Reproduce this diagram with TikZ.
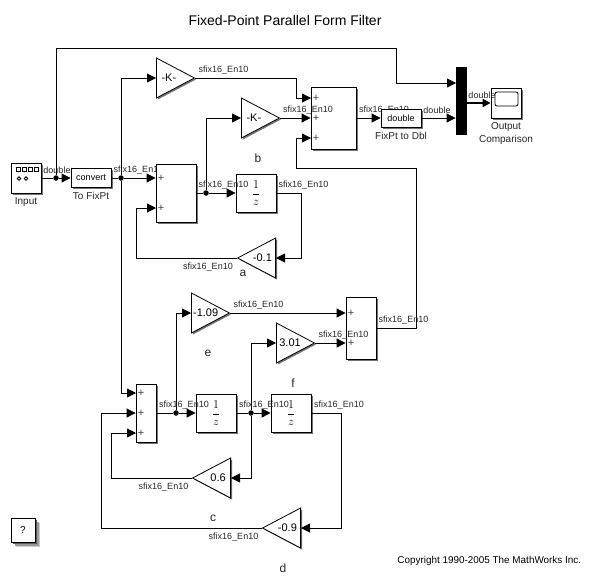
\documentclass[tikz,border=0pt]{standalone}
\usepackage{fontspec}
\setmainfont{Liberation Sans}
\usetikzlibrary{arrows.meta,shapes.geometric,shadows}
\tikzset{
  blk/.style={draw,fill=white,inner sep=0pt,drop shadow={shadow xshift=1.5pt,shadow yshift=-1.5pt,fill=black!55,opacity=1}},
  gainr/.style={blk,isosceles triangle,isosceles triangle stretches,shape border rotate=0,minimum width=40pt,minimum height=38pt,anchor=lower side,font=\fontsize{11}{11}\selectfont},
  gainl/.style={gainr,shape border rotate=180},
  wire/.style={-{Triangle[length=9pt,width=9pt]},line width=0.8pt},
  plain/.style={line width=0.8pt},
  dot/.style={circle,fill=black,inner sep=0pt,minimum size=5.5pt},
  sig/.style={font=\fontsize{9}{9}\selectfont,text=black!85,inner sep=0pt},
  capt/.style={font=\fontsize{10}{10}\selectfont,text=black!85,inner sep=0pt},
  letr/.style={font=\fontsize{12}{12}\selectfont,text=black!85,inner sep=0pt},
  pls/.style={font=\fontsize{11}{11}\selectfont,text=black!75,inner sep=0pt},
  helpbox/.style={draw,fill=white,inner sep=0pt,line width=1pt,minimum width=24pt,minimum height=24pt,font=\fontsize{10}{10}\selectfont,
    drop shadow={shadow xshift=5pt,shadow yshift=-5pt,fill=black!20,opacity=1},
    drop shadow={shadow xshift=3.5pt,shadow yshift=-3.5pt,fill=black!40,opacity=1},
    drop shadow={shadow xshift=2pt,shadow yshift=-2pt,fill=black!65,opacity=1}}
}
\begin{document}
\begin{tikzpicture}[x=1pt,y=-1pt,line width=0.8pt]
\useasboundingbox (0,0) rectangle (593,587);
\node[font=\fontsize{14}{14}\selectfont,inner sep=0pt] (title) at (285,20) {Fixed-Point Parallel Form Filter};
\node[font=\fontsize{9.9}{10}\selectfont,inner sep=0pt,anchor=east] (copy) at (581.5,561) {Copyright 1990-2005 The MathWorks Inc.};
% labels the blocks hide
\node[sig] (l1) at (138.5,170) {sfix16\_En10};
\node[sig] (l2) at (384,110) {sfix16\_En10};
% top half
\node[blk,minimum width=30pt,minimum height=30pt] (input) at (26.5,178) {};
\node[blk,minimum width=40pt,minimum height=19pt,font=\fontsize{9}{9}\selectfont] (conv) at (91,178) {convert};
\node[blk,minimum width=40pt,minimum height=58pt] (sum1) at (176,193) {};
\node[blk,minimum width=40pt,minimum height=38pt] (del1) at (256,193) {\fontsize{12}{12}\selectfont$\displaystyle\frac{1}{z}$};
\node[gainr] (k1) at (156,78) {-K-};
\node[gainr] (k2) at (241,118) {-K-};
\node[gainl] (ga) at (276,258) {-0.1};
\node[blk,minimum width=45pt,minimum height=62pt] (sum2) at (333.5,118) {};
\node[blk,minimum width=40pt,minimum height=18pt,font=\fontsize{9}{9}\selectfont] (dbl) at (401,118) {double};
\node[draw,fill=black,inner sep=0pt,minimum width=10pt,minimum height=67pt] (mux) at (461,100.5) {};
\node[blk,minimum width=30pt,minimum height=30pt] (scope) at (506,103) {};
\draw[rounded corners=2pt] (495,92) rectangle (518,106);
% bottom half
\node[blk,minimum width=30pt,minimum height=62pt] (sum3) at (361,328) {};
\node[gainr] (ge) at (191,313) {-1.09};
\node[gainr] (gf) at (276,343) {3.01};
\node[blk,minimum width=20pt,minimum height=58pt] (sum4) at (146,413) {};
\node[blk,minimum width=40pt,minimum height=38pt] (del2) at (216,413) {\fontsize{12}{12}\selectfont$\displaystyle\frac{1}{z}$};
\node[blk,minimum width=40pt,minimum height=38pt] (del3) at (291,413) {\fontsize{12}{12}\selectfont$\displaystyle\frac{1}{z}$};
\node[gainl] (gc) at (231,478) {0.6};
\node[gainl] (gd) at (301,528) {-0.9};
\node[helpbox] (help) at (23,530) {?};
% input icon
\foreach \x in {16,22,28,34} \draw[line width=0.8pt] (\x,167) rectangle +(4,4);
\foreach \x in {19,26} \draw[line width=0.8pt] (\x,178.5) circle (1.8);
% plus signs
\foreach \n/\x/\y in {a/161/178,b/161/208,c/316/98,d/316/118,e/316/138,f/351/313,g/351/343,h/141/393,i/141/413,j/141/433}
  \node[pls] (p\n) at (\x,\y) {+};
% junctions
\node[dot] (j1) at (56,178) {};
\node[dot] (j2) at (121,178) {};
\node[dot] (j3) at (206,193) {};
\node[dot] (j4) at (176,413) {};
\node[dot] (j5) at (251,413) {};
% bends
\coordinate (top) at (396,48);
\coordinate (muxa) at (456,83);
\coordinate (s2a) at (311,98);
\coordinate (b1) at (296,78);
\coordinate (fb1) at (416,168);
\coordinate (fb2) at (296,138);
\coordinate (s2c) at (311,138);
\coordinate (s1b) at (156,208);
\coordinate (r1) at (301,193);
\coordinate (r2) at (136,258);
\coordinate (r3) at (341,413);
\coordinate (r4) at (101,528);
\coordinate (r5) at (111,478);
\coordinate (s4a) at (136,393);
\coordinate (s4c) at (136,433);
\draw[plain] (input.east) -- (j1);
\draw[wire] (j1) -- (conv.west);
\draw[wire] (j1) |- (top) |- (muxa);
\draw[plain] (conv.east) -- (j2);
\draw[wire] (j2) -- (j2 -| sum1.west);
\draw[wire] (j2) |- (k1.lower side);
\draw[wire] (j2) |- (s4a);
\draw[plain] (sum1.east) -- (j3);
\draw[wire] (j3) -- (del1.west);
\draw[wire] (j3) |- (k2.lower side);
\draw[wire] (del1.east) -| (r1) |- (ga.lower side);
\draw[wire] (ga.apex) -| (r2) |- (s1b);
\draw[wire] (k1.apex) -| (b1) |- (s2a);
\draw[wire] (k2.apex) -- (k2.apex -| sum2.west);
\draw[wire] (sum2.east) -- (dbl.west);
\draw[wire] (dbl.east) -- (dbl.east -| mux.west);
\draw[-{Triangle[length=8pt,width=8pt]},line width=2.5pt] (mux.east |- scope.west) -- (scope.west);
\draw[plain] (sum3.east) -| (fb1) -| (fb2);
\draw[wire] (fb2) -- (s2c);
\draw[wire] (ge.apex) -- (ge.apex -| sum3.west);
\draw[wire] (gf.apex) -- (gf.apex -| sum3.west);
\draw[plain] (sum4.east) -- (j4);
\draw[wire] (j4) -- (del2.west);
\draw[wire] (j4) |- (ge.lower side);
\draw[plain] (del2.east) -- (j5);
\draw[wire] (j5) -- (del3.west);
\draw[wire] (j5) |- (gf.lower side);
\draw[wire] (j5) |- (gc.lower side);
\draw[wire] (del3.east) -| (r3) |- (gd.lower side);
\draw[wire] (gd.apex) -| (r4) |- (sum4.west);
\draw[wire] (gc.apex) -| (r5) |- (s4c);
% signal labels
\foreach \n/\x/\y in {a/223.5/70,b/308/110,c/223.5/185,d/303.5/185,e/208/267,f/258.5/305,g/343.5/335,h/403.5/320,i/184/405,j/264/405,k/339/405,m/163.5/487,o/233.5/537}
  \node[sig] (s\n) at (\x,\y) {sfix16\_En10};
\foreach \n/\x/\y in {a/57/170,b/437/110,c/482/95}
  \node[sig] (t\n) at (\x,\y) {double};
% captions
\node[capt] (cinput) at (26,202) {Input};
\node[capt] (cconv) at (91,196) {To FixPt};
\node[capt] (cdbl) at (401,136) {FixPt to Dbl};
\node[capt,align=center] (cscope) at (506,134) {Output\\[3pt]Comparison};
\foreach \t/\x/\y in {a/243/273,b/258/158,c/213/518,d/283/568,e/208/353,f/293/383}
  \node[letr] (n\t) at (\x,\y) {\t};
\end{tikzpicture}
\end{document}
